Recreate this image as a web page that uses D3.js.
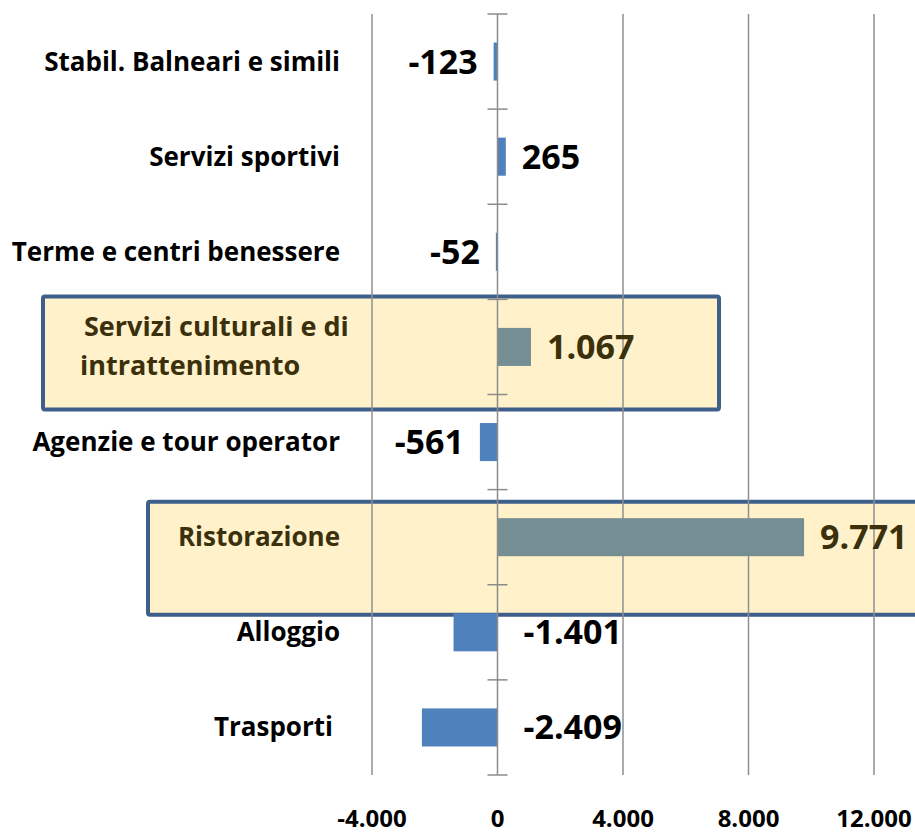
<!DOCTYPE html>
<html>
<head>
<meta charset="utf-8">
<script src="https://cdn.jsdelivr.net/npm/d3@7"></script>
<style>
  body { margin: 0; background: #fff; }
  svg { display: block; font-family: "Open Sans", sans-serif; font-weight: bold; }
</style>
</head>
<body>
<div id="chart"></div>
<script>
// data, top to bottom
const categories = [
  "Stabil. Balneari e simili",
  "Servizi sportivi",
  "Terme e centri benessere",
  "Servizi culturali e di intrattenimento",
  "Agenzie e tour operator",
  "Ristorazione",
  "Alloggio",
  "Trasporti"
];
const values = [-123, 265, -52, 1067, -561, 9771, -1401, -2409];
const xTicks = [-4000, 0, 4000, 8000, 12000];
const highlighted = ["Servizi culturali e di intrattenimento", "Ristorazione"];
// these two have their labels moved right of the zero line in the original
const labelsRightOfAxis = ["Alloggio", "Trasporti"];

const width = 915, height = 835;
const data = categories.map((c, i) => ({ name: c, value: values[i] }));

const svg = d3.select("#chart").append("svg")
  .attr("width", width)
  .attr("height", height);

const x = d3.scaleLinear().domain([-4000, 12000]).range([372, 874]);
const y = d3.scaleBand().domain(categories).range([14, 775])
  .paddingInner(0.6).paddingOuter(0.3);
const step = y.step();
const bandTop = d => y(d) - y.bandwidth() * 0.75;   // start of the full band

const fmt = d3.formatLocale({ decimal: ",", thousands: ".", grouping: [3], currency: ["", "€"], minus: "-" }).format(",d");

// highlight boxes (fill goes behind everything)
const boxes = [
  { name: "Servizi culturali e di intrattenimento", x0: 43, x1: 719, dTop: -3, dBot: 15 },
  { name: "Ristorazione", x0: 148, x1: 930, dTop: 12, dBot: 30 }
];
const boxG = svg.append("g");
boxG.selectAll("rect").data(boxes).join("rect")
  .attr("x", d => d.x0)
  .attr("y", d => bandTop(d.name) + d.dTop)
  .attr("width", d => d.x1 - d.x0)
  .attr("height", d => step - d.dTop + d.dBot)
  .attr("fill", "#fff1c9");

// gridlines
svg.append("g").selectAll("line").data(xTicks.filter(t => t !== 0)).join("line")
  .attr("x1", d => x(d)).attr("x2", d => x(d))
  .attr("y1", 14).attr("y2", 775)
  .attr("stroke", "#8f8f8f").attr("stroke-width", 1.5);

// bars
svg.append("g").selectAll("rect").data(data).join("rect")
  .attr("x", d => x(Math.min(0, d.value)))
  .attr("y", d => y(d.name))
  .attr("width", d => Math.abs(x(d.value) - x(0)))
  .attr("height", y.bandwidth())
  .attr("fill", d => highlighted.includes(d.name) ? "#758e93" : "#4f81bd");

// zero axis with cross ticks
const axisG = svg.append("g").attr("stroke", "#8c8c8c").attr("stroke-width", 1.5);
axisG.append("line")
  .attr("x1", x(0)).attr("x2", x(0)).attr("y1", 14).attr("y2", 775);
axisG.selectAll("line.tk").data(d3.range(categories.length + 1)).join("line")
  .attr("class", "tk")
  .attr("x1", x(0) - 10).attr("x2", x(0) + 10)
  .attr("y1", i => 14 + i * step).attr("y2", i => 14 + i * step);

// box borders on top
boxG.selectAll("rect.border").data(boxes).join("rect")
  .attr("class", "border")
  .attr("x", d => d.x0)
  .attr("y", d => bandTop(d.name) + d.dTop)
  .attr("width", d => d.x1 - d.x0)
  .attr("height", d => step - d.dTop + d.dBot)
  .attr("rx", 2)
  .attr("fill", "none")
  .attr("stroke", "#3e5f8a")
  .attr("stroke-width", 4);

const textColor = d => highlighted.includes(d.name) ? "#3b300c" : "#000";

// category labels
const catG = svg.append("g").style("font-size", "26px");
data.forEach(d => {
  const cy = y(d.name) + y.bandwidth() / 2;
  if (d.name === "Servizi culturali e di intrattenimento") {
    // two lines, roughly left-aligned like the original
    const t = catG.append("text").attr("fill", textColor(d)).style("font-size", "27px");
    t.append("tspan").attr("x", 84).attr("y", cy - 11).text("Servizi culturali e di");
    t.append("tspan").attr("x", 80).attr("y", cy + 28).text("intrattenimento");
  } else {
    catG.append("text")
      .attr("x", d.name === "Trasporti" ? 333 : 340)
      .attr("y", cy + 9)
      .attr("text-anchor", "end")
      .attr("fill", textColor(d))
      .text(d.name);
  }
});

// value labels
svg.append("g").style("font-size", "34px").selectAll("text").data(data).join("text")
  .attr("x", d => {
    if (labelsRightOfAxis.includes(d.name)) return x(0) + 26;
    return d.value < 0 ? x(d.value) - 16 : x(d.value) + 16;
  })
  .attr("y", d => y(d.name) + y.bandwidth() / 2 + 12)
  .attr("text-anchor", d => (d.value < 0 && !labelsRightOfAxis.includes(d.name)) ? "end" : "start")
  .attr("fill", textColor)
  .text(d => fmt(d.value));

// x tick labels
svg.append("g").style("font-size", "24px").selectAll("text").data(xTicks).join("text")
  .attr("x", d => x(d))
  .attr("y", 827)
  .attr("text-anchor", "middle")
  .text(d => fmt(d));
</script>
</body>
</html>
